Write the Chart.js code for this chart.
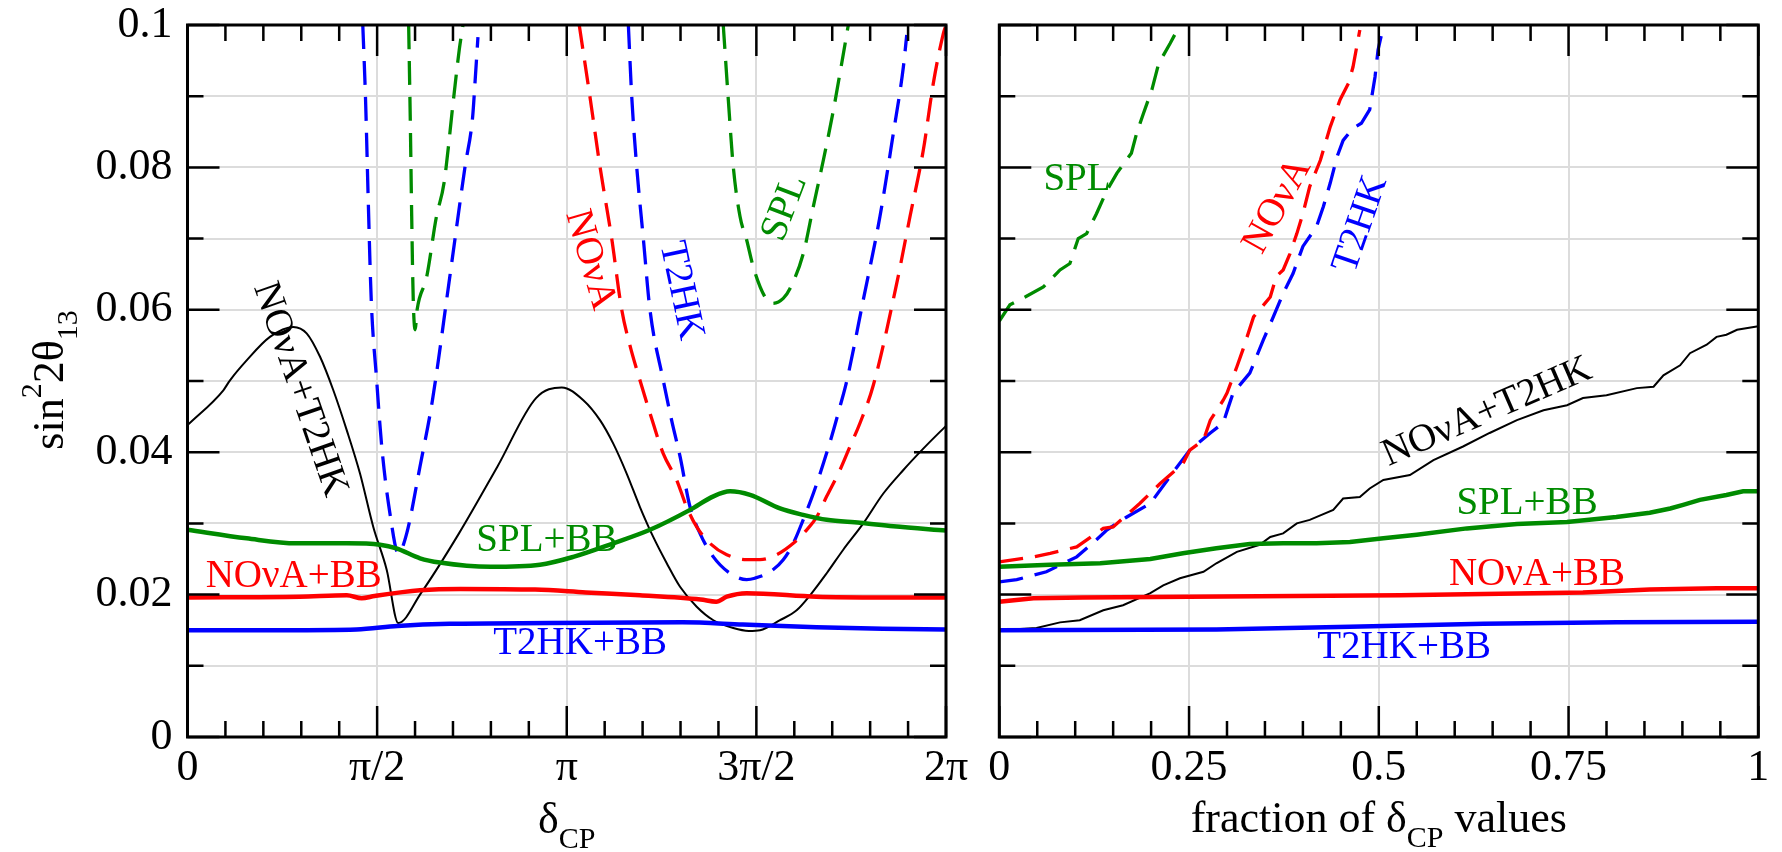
<!DOCTYPE html>
<html>
<head>
<meta charset="utf-8">
<script src="https://cdn.jsdelivr.net/npm/chart.js@4.4.1/dist/chart.umd.min.js"></script>
<style>
  html, body { margin: 0; padding: 0; background: #fff; }
  #wrap { position: relative; width: 1782px; height: 852px; }
  #leftChart { position: absolute; left: 0; top: 0; }
  #rightChart { position: absolute; left: 960px; top: 0; }
</style>
</head>
<body>
<div id="wrap">
  <canvas id="leftChart" width="1000" height="852"></canvas>
  <canvas id="rightChart" width="822" height="852"></canvas>
</div>
<script>
// ---- left panel: sin^2 2theta13 reach vs delta_CP (x in radians) ----
const novaBB = [[0,0.0196],[0.93,0.0197],[1.32,0.0199],[1.443,0.0195],[1.55,0.0198],[1.926,0.0206],[2.26,0.0208],[2.88,0.0207],[3.30,0.0203],[3.748,0.0199],[4.25,0.0193],[4.38,0.0190],[4.467,0.0197],[4.632,0.0202],[5.21,0.0197],[5.76,0.0196],[6.283,0.0196]]
const t2hkBB = [[0,0.0150],[0.8,0.0150],[1.40,0.0151],[1.74,0.0156],[2.17,0.0159],[3.0,0.0160],[4.10,0.0161],[4.60,0.0158],[4.76,0.0157],[5.21,0.0154],[5.76,0.0152],[6.283,0.0151]]
const splBB = [[0,0.0291],[0.49,0.0279],[0.90,0.0272],[1.32,0.0272],[1.595,0.0270],[1.73,0.0265],[1.926,0.0251],[2.09,0.0245],[2.51,0.0239],[2.92,0.0242],[3.196,0.0253],[3.527,0.0272],[3.831,0.0291],[4.163,0.0319],[4.356,0.0338],[4.494,0.0345],[4.66,0.0340],[4.908,0.0321],[5.10,0.0312],[5.295,0.0305],[5.571,0.0301],[5.847,0.0296],[6.283,0.0290]]
const novaT2hk = [[0,0.0438],[0.297,0.0487],[0.352,0.0501],[0.49,0.0529],[0.683,0.0562],[0.876,0.0576],[0.987,0.0567],[1.098,0.0534],[1.208,0.0487],[1.319,0.0431],[1.429,0.0370],[1.539,0.0295],[1.650,0.0235],[1.746,0.0160],[1.934,0.0202],[2.249,0.0286],[2.568,0.0380],[2.887,0.0476],[3.10,0.0491],[3.279,0.0473],[3.417,0.0445],[3.527,0.0412],[3.638,0.0370],[3.748,0.0323],[3.858,0.0281],[3.970,0.0244],[4.08,0.0211],[4.218,0.0183],[4.356,0.0164],[4.521,0.0153],[4.65,0.0149],[4.743,0.0150],[4.908,0.0164],[5.046,0.0178],[5.157,0.0199],[5.295,0.0230],[5.432,0.0263],[5.598,0.0300],[5.764,0.0342],[5.93,0.0375],[6.095,0.0405],[6.283,0.0437]]

// dashed single-experiment curves, each dip drawn on its own
const t2hkDip1 = [[1.452,0.1],[1.475,0.0895],[1.497,0.0755],[1.522,0.0614],[1.567,0.0501],[1.609,0.0408],[1.677,0.0314],[1.746,0.0258],[1.816,0.0286],[1.926,0.0380],[2.029,0.0473],[2.166,0.0638],[2.299,0.0801],[2.362,0.0871],[2.382,0.092],[2.406,0.0983]]
const t2hkDip2 = [[3.652,0.1],[3.680,0.0899],[3.721,0.0801],[3.776,0.0700],[3.831,0.0600],[3.941,0.0501],[4.01,0.0445],[4.08,0.0394],[4.163,0.0323],[4.245,0.0286],[4.356,0.0253],[4.494,0.0230],[4.632,0.0221],[4.70,0.0223],[4.826,0.0232],[4.935,0.0249],[5.018,0.0272],[5.10,0.0305],[5.184,0.0342],[5.267,0.0384],[5.336,0.0422],[5.405,0.0464],[5.461,0.0500],[5.598,0.0614],[5.736,0.0731],[5.847,0.0848],[5.930,0.0941],[5.958,0.0986]]
const splDip1 = [[1.832,0.1],[1.847,0.085],[1.855,0.0755],[1.870,0.0614],[1.886,0.0572],[1.902,0.0600],[1.981,0.0646],[2.061,0.0730],[2.125,0.0778],[2.203,0.0895],[2.251,0.0965],[2.282,0.1]]
const splDip2 = [[4.438,0.1],[4.480,0.0895],[4.521,0.0801],[4.577,0.0731],[4.632,0.0698],[4.687,0.0660],[4.784,0.0618],[4.847,0.0609],[4.935,0.0616],[4.991,0.0630],[5.101,0.0679],[5.184,0.0745],[5.267,0.0810],[5.350,0.0880],[5.419,0.0946],[5.474,0.1]]
const novaDip = [[3.245,0.1],[3.334,0.0899],[3.417,0.0801],[3.514,0.0700],[3.597,0.0600],[3.665,0.0550],[3.748,0.0501],[3.831,0.0455],[3.941,0.0398],[4.052,0.0361],[4.135,0.0323],[4.218,0.0295],[4.328,0.0272],[4.467,0.0256],[4.632,0.0249],[4.742,0.0249],[4.881,0.0256],[5.018,0.0272],[5.13,0.0291],[5.212,0.0309],[5.295,0.0338],[5.405,0.0375],[5.488,0.0408],[5.571,0.0441],[5.681,0.0494],[5.875,0.0637],[5.985,0.0731],[6.095,0.0824],[6.178,0.0918],[6.261,0.0988],[6.283,0.1]]

// ---- right panel: same vs fraction of delta_CP values ----
const splFrac = [[0,0.0584],[0.014,0.0607],[0.034,0.0618],[0.058,0.0632],[0.080,0.0656],[0.093,0.0665],[0.104,0.0700],[0.115,0.0707],[0.128,0.0735],[0.142,0.0768],[0.155,0.0792],[0.174,0.0820],[0.181,0.0848],[0.190,0.0876],[0.201,0.0909],[0.210,0.0946],[0.225,0.0974],[0.238,0.1]]
const novaFrac = [[0,0.0246],[0.045,0.0253],[0.067,0.0258],[0.102,0.0267],[0.137,0.0293],[0.150,0.0295],[0.185,0.0328],[0.212,0.0356],[0.242,0.0384],[0.251,0.0403],[0.269,0.0417],[0.278,0.0445],[0.295,0.0473],[0.300,0.0483],[0.313,0.0520],[0.321,0.0544],[0.335,0.0590],[0.357,0.0618],[0.365,0.0647],[0.374,0.0656],[0.383,0.0679],[0.392,0.0707],[0.400,0.0735],[0.409,0.0773],[0.423,0.0810],[0.436,0.0857],[0.449,0.0895],[0.460,0.0918],[0.466,0.0941],[0.471,0.0970],[0.475,0.0993]]
const t2hkFrac = [[0,0.0218],[0.023,0.0221],[0.062,0.0232],[0.102,0.0253],[0.128,0.0277],[0.142,0.0291],[0.168,0.0309],[0.199,0.0328],[0.225,0.0366],[0.251,0.0403],[0.278,0.0427],[0.295,0.0441],[0.302,0.0464],[0.308,0.0483],[0.330,0.0511],[0.348,0.0558],[0.361,0.0590],[0.374,0.0623],[0.387,0.0651],[0.400,0.0689],[0.418,0.0717],[0.427,0.0745],[0.436,0.0778],[0.445,0.0815],[0.453,0.0838],[0.466,0.0855],[0.477,0.0862],[0.488,0.0881],[0.495,0.0927],[0.499,0.0965],[0.506,0.0998]]
const novaT2hkFrac = [[0,0.0150],[0.049,0.0153],[0.080,0.0161],[0.106,0.0164],[0.137,0.0178],[0.163,0.0185],[0.199,0.0202],[0.216,0.0213],[0.238,0.0223],[0.269,0.0232],[0.286,0.0244],[0.313,0.0260],[0.343,0.0270],[0.357,0.0281],[0.374,0.0286],[0.392,0.0300],[0.409,0.0305],[0.440,0.0319],[0.453,0.0335],[0.475,0.0337],[0.488,0.0349],[0.506,0.0361],[0.541,0.0368],[0.572,0.0389],[0.611,0.0408],[0.646,0.0427],[0.682,0.0445],[0.717,0.0459],[0.748,0.0466],[0.769,0.0476],[0.800,0.0480],[0.840,0.0490],[0.862,0.0492],[0.875,0.0508],[0.897,0.0522],[0.910,0.0539],[0.932,0.0551],[0.945,0.0562],[0.958,0.0565],[0.972,0.0572],[1.0,0.0577]]
const splBBFrac = [[0,0.0239],[0.067,0.0242],[0.133,0.0244],[0.199,0.0250],[0.242,0.0258],[0.286,0.0265],[0.330,0.0271],[0.374,0.0272],[0.418,0.0272],[0.462,0.0274],[0.506,0.0279],[0.550,0.0284],[0.616,0.0293],[0.682,0.0299],[0.748,0.0302],[0.813,0.0309],[0.857,0.0315],[0.884,0.0321],[0.901,0.0326],[0.923,0.0333],[0.958,0.0340],[0.980,0.0345],[1.0,0.0345]]
const novaBBFrac = [[0,0.0190],[0.045,0.0195],[0.11,0.0196],[0.528,0.0199],[0.638,0.0201],[0.769,0.0203],[0.857,0.0207],[0.945,0.0209],[1.0,0.0209]]
const t2hkBBFrac = [[0,0.0150],[0.286,0.0151],[0.462,0.0155],[0.638,0.0159],[0.813,0.0161],[1.0,0.0162]]

// ---- ticks ----
const yTickVals = [0, 0.01, 0.02, 0.03, 0.04, 0.05, 0.06, 0.07, 0.08, 0.09, 0.1]
const yTickLabels = ['0', '', '0.02', '', '0.04', '', '0.06', '', '0.08', '', '0.1']
const deltaTickVals = Array.from({ length: 21 }, (_, i) => i * Math.PI / 10)
const deltaTickLabels = ['0', 'π/2', 'π', '3π/2', '2π']
const fracTickVals = Array.from({ length: 21 }, (_, i) => i * 0.05)
const fracTickLabels = ['0', '0.25', '0.5', '0.75', '1']

// curve labels (data coordinates, rotation in degrees)
const leftNotes = [
    { text: 'NOνA+T2HK', x: 0.93, y: 0.0488, rot: 71, color: '#000' },
    { text: 'NOνA', x: 3.334, y: 0.0670, rot: 74, color: '#ff0000' },
    { text: 'T2HK', x: 4.086, y: 0.0627, rot: 78, color: '#0000ff' },
    { text: 'SPL', x: 4.949, y: 0.0743, rot: -69, color: '#008b00' },
    { text: 'NOνA+BB', x: 0.88, y: 0.0225, rot: 0, color: '#ff0000' },
    { text: 'SPL+BB', x: 2.977, y: 0.0275, rot: 0, color: '#008b00' },
    { text: 'T2HK+BB', x: 3.252, y: 0.0131, rot: 0, color: '#0000ff' }
]
const rightNotes = [
    { text: 'SPL', x: 0.1024, y: 0.0782, rot: 0, color: '#008b00' },
    { text: 'NOνA', x: 0.3665, y: 0.0746, rot: -61, color: '#ff0000' },
    { text: 'T2HK', x: 0.4763, y: 0.0720, rot: -71, color: '#0000ff' },
    { text: 'NOνA+T2HK', x: 0.6426, y: 0.0456, rot: -23.5, color: '#000' },
    { text: 'SPL+BB', x: 0.6953, y: 0.0327, rot: 0, color: '#008b00' },
    { text: 'NOνA+BB', x: 0.7084, y: 0.0228, rot: 0, color: '#ff0000' },
    { text: 'T2HK+BB', x: 0.5333, y: 0.0125, rot: 0, color: '#0000ff' }
]

const RED = '#ff0000', BLUE = '#0000ff', GREEN = '#008b00', BLACK = '#000000'
const GRID = '#dcdcdc'
const FONT = '"Liberation Serif", "Times New Roman", serif'
const DASH = [24, 12]

function curve(pts, color, width, dash, smooth) {
    return {
        data: pts.map(p => ({ x: p[0], y: p[1] })),
        borderColor: color,
        borderWidth: width,
        borderDash: dash || [],
        pointRadius: 0,
        fill: false,
        tension: 0,
        cubicInterpolationMode: smooth ? 'monotone' : 'default'
    }
}

function drawRich(ctx, parts, cx, cy, angle) {
    let total = 0
    parts.forEach(p => {
        ctx.font = p[1] + 'px ' + FONT
        p.w = ctx.measureText(p[0]).width
        total += p.w
    })
    ctx.save()
    ctx.translate(cx, cy)
    ctx.rotate(angle)
    ctx.fillStyle = '#000'
    ctx.textAlign = 'left'
    ctx.textBaseline = 'alphabetic'
    let xx = -total / 2
    parts.forEach(p => {
        ctx.font = p[1] + 'px ' + FONT
        ctx.fillText(p[0], xx, p[2])
        xx += p.w
    })
    ctx.restore()
}

// frame, inward ticks on all four sides, curve labels, axis titles
function panelPlugin(notes, titles) {
    return {
        id: 'panel',
        afterDatasetsDraw(chart) {
            const { ctx, chartArea: a, scales: { x, y } } = chart
            ctx.save()
            ctx.strokeStyle = '#000'
            ctx.lineWidth = 2.5
            ctx.beginPath()
            x.ticks.forEach((t, i) => {
                const px = x.getPixelForValue(t.value)
                const len = i % 5 === 0 ? 31 : 16
                ctx.moveTo(px, a.bottom); ctx.lineTo(px, a.bottom - len)
                ctx.moveTo(px, a.top); ctx.lineTo(px, a.top + len)
            })
            y.ticks.forEach((t, i) => {
                const py = y.getPixelForValue(t.value)
                const len = i % 2 === 0 ? 32 : 16
                ctx.moveTo(a.left, py); ctx.lineTo(a.left + len, py)
                ctx.moveTo(a.right, py); ctx.lineTo(a.right - len, py)
            })
            ctx.stroke()
            ctx.lineWidth = 3
            ctx.strokeRect(a.left, a.top, a.right - a.left, a.bottom - a.top)

            ctx.font = '39px ' + FONT
            ctx.textAlign = 'center'
            ctx.textBaseline = 'middle'
            notes.forEach(n => {
                ctx.save()
                ctx.translate(x.getPixelForValue(n.x), y.getPixelForValue(n.y))
                ctx.rotate(n.rot * Math.PI / 180)
                ctx.fillStyle = n.color
                ctx.fillText(n.text, 0, 0)
                ctx.restore()
            })
            ctx.restore()
            titles(chart)
        }
    }
}

function baseOptions(pad, yWidth, xTickVals, xLabels, showY) {
    return {
        responsive: false,
        animation: false,
        events: [],
        layout: { padding: pad },
        plugins: { legend: { display: false }, tooltip: { enabled: false } },
        scales: {
            x: {
                type: 'linear',
                min: xTickVals[0],
                max: xTickVals[xTickVals.length - 1],
                afterBuildTicks: s => { s.ticks = xTickVals.map(v => ({ value: v })) },
                afterFit: s => { s.height = 115; s.paddingLeft = 0; s.paddingRight = 0 },
                grid: {
                    drawTicks: false,
                    lineWidth: 2,
                    color: c => (c.index % 5 === 0 ? GRID : 'rgba(0,0,0,0)')
                },
                border: { display: false },
                ticks: {
                    autoSkip: false,
                    maxRotation: 0,
                    padding: 5,
                    color: '#000',
                    font: { family: FONT, size: 44 },
                    callback: (v, i) => (i % 5 === 0 ? xLabels[i / 5] : '')
                }
            },
            y: {
                type: 'linear',
                min: 0,
                max: 0.1,
                afterBuildTicks: s => { s.ticks = yTickVals.map(v => ({ value: v })) },
                afterFit: s => { s.width = yWidth; s.paddingTop = 0; s.paddingBottom = 0 },
                grid: { drawTicks: false, lineWidth: 2, color: GRID },
                border: { display: false },
                ticks: {
                    display: showY,
                    padding: 15,
                    color: '#000',
                    font: { family: FONT, size: 44 },
                    callback: (v, i) => yTickLabels[i]
                }
            }
        }
    }
}

const leftDatasets = [
    curve(novaBB, RED, 4.5, null, true),
    curve(t2hkBB, BLUE, 4.5, null, true),
    curve(splBB, GREEN, 4.5, null, true),
    curve(novaT2hk, BLACK, 2, null, true),
    curve(novaDip, RED, 3.3, DASH, true),
    curve(t2hkDip1, BLUE, 3.3, DASH, true),
    curve(t2hkDip2, BLUE, 3.3, DASH, true),
    curve(splDip1, GREEN, 3.3, DASH, true),
    curve(splDip2, GREEN, 3.3, DASH, true)
]

const rightDatasets = [
    curve(novaBBFrac, RED, 4.5),
    curve(t2hkBBFrac, BLUE, 4.5),
    curve(splBBFrac, GREEN, 4.5),
    curve(novaT2hkFrac, BLACK, 2),
    curve(novaFrac, RED, 3.3, DASH),
    curve(t2hkFrac, BLUE, 3.3, DASH),
    curve(splFrac, GREEN, 3.3, DASH)
]

new Chart(document.getElementById('leftChart').getContext('2d'), {
    type: 'line',
    data: { datasets: leftDatasets },
    options: baseOptions({ top: 25, right: 54, left: 0, bottom: 0 }, 187.5, deltaTickVals, deltaTickLabels, true),
    plugins: [panelPlugin(leftNotes, chart => {
        const { ctx, scales: { x } } = chart
        drawRich(ctx, [['δ', 44, 0], ['CP', 30, 15]], x.getPixelForValue(Math.PI), 833, 0)
        drawRich(ctx, [['sin', 44, 0], ['2', 30, -22], ['2θ', 44, 0], ['13', 30, 14]], 63, 380, -Math.PI / 2)
    })]
})

new Chart(document.getElementById('rightChart').getContext('2d'), {
    type: 'line',
    data: { datasets: rightDatasets },
    options: baseOptions({ top: 25, right: 23.7, left: 0, bottom: 0 }, 39.3, fracTickVals, fracTickLabels, false),
    plugins: [panelPlugin(rightNotes, chart => {
        const { ctx, scales: { x } } = chart
        drawRich(ctx, [['fraction of δ', 44, 0], ['CP', 30, 15], [' values', 44, 0]], x.getPixelForValue(0.5), 832, 0)
    })]
})
</script>
</body>
</html>
